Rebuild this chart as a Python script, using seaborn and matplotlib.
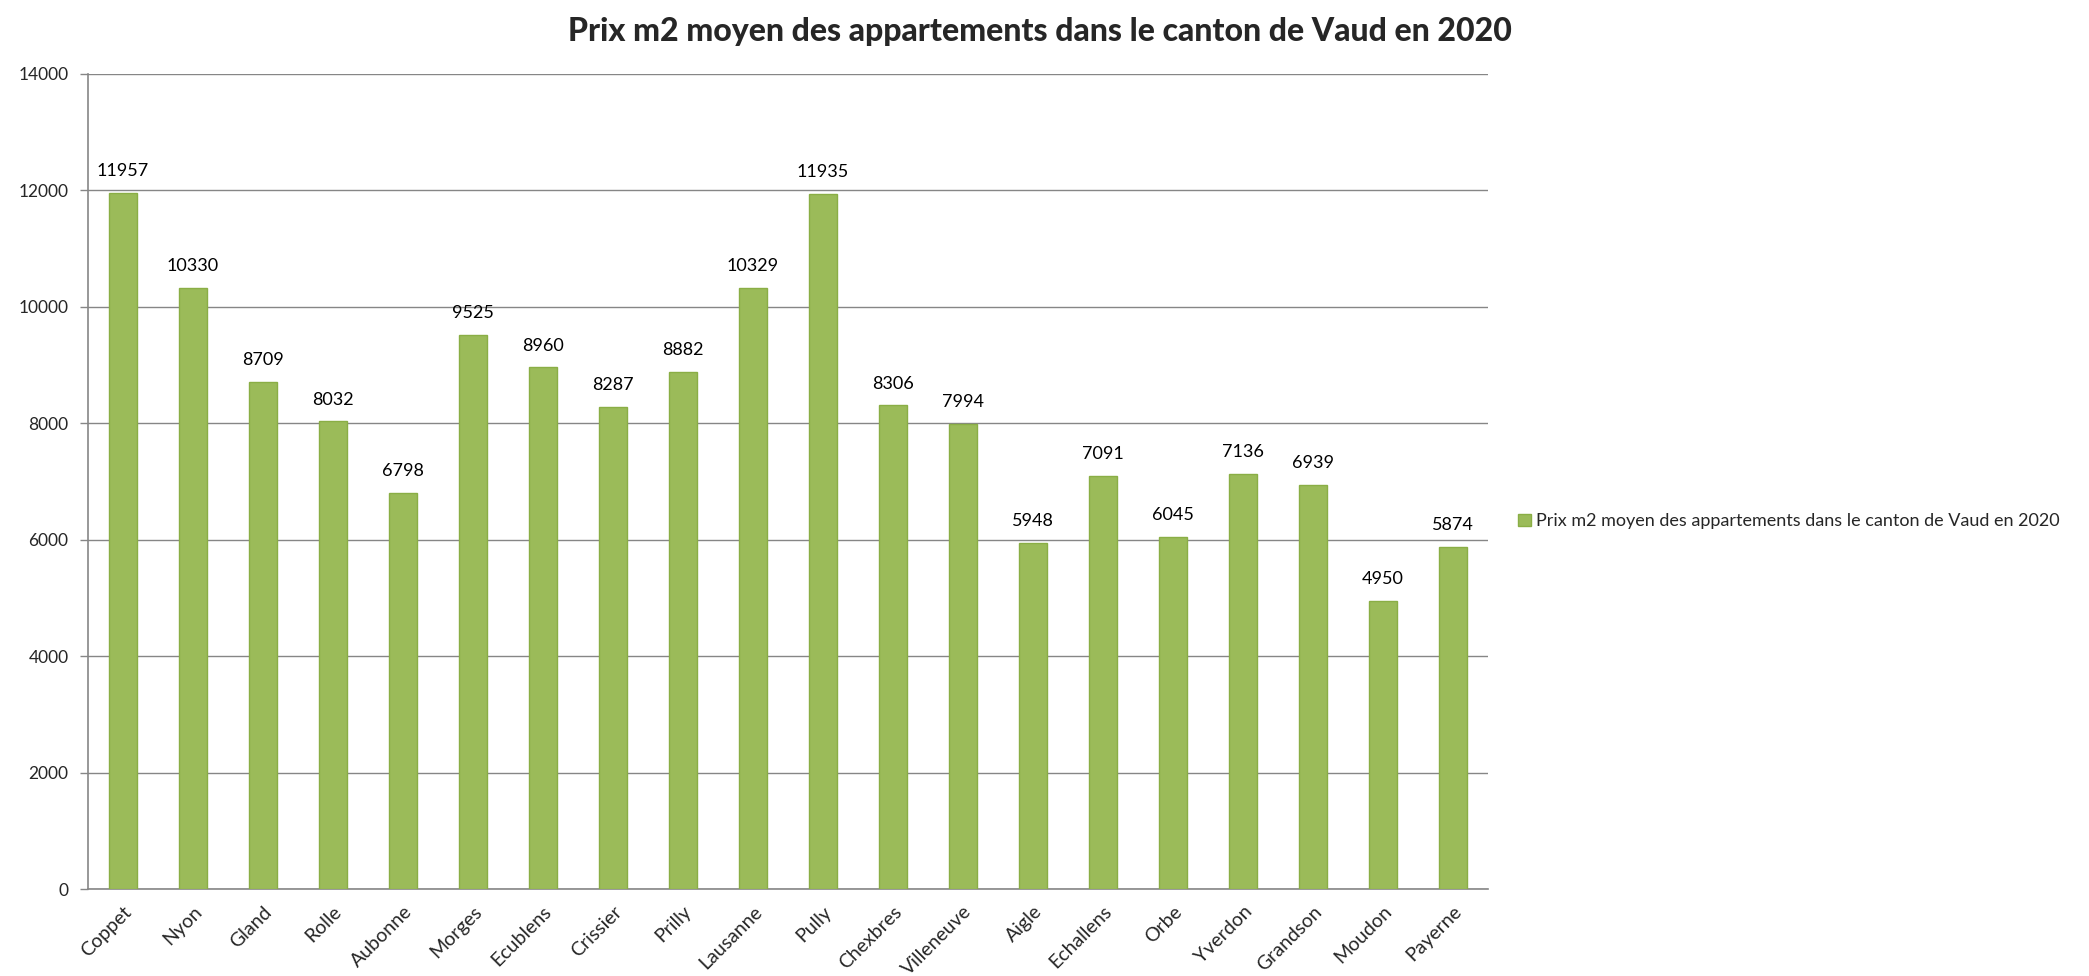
import matplotlib
matplotlib.use("Agg")
import matplotlib.pyplot as plt
import seaborn as sns
import pandas as pd
from matplotlib.patches import Patch
from matplotlib.ticker import FixedLocator

communes = ["Coppet", "Nyon", "Gland", "Rolle", "Aubonne", "Morges", "Ecublens",
            "Crissier", "Prilly", "Lausanne", "Pully", "Chexbres", "Villeneuve",
            "Aigle", "Echallens", "Orbe", "Yverdon", "Grandson", "Moudon", "Payerne"]
prix = [11957, 10330, 8709, 8032, 6798, 9525, 8960, 8287, 8882, 10329, 11935,
        8306, 7994, 5948, 7091, 6045, 7136, 6939, 4950, 5874]
y_ticks = [0, 2000, 4000, 6000, 8000, 10000, 12000, 14000]
title = "Prix m2 moyen des appartements dans le canton de Vaud en 2020"

sns.set_theme(style="white")
plt.rcParams['font.family'] = ['Lato', 'DejaVu Sans']

df = pd.DataFrame({"commune": communes, "prix": prix})

fig = plt.figure(figsize=(20.89, 9.76), dpi=100)
ax = fig.add_axes([0.0421, 0.0891, 0.6702, 0.8351])

green = "#9BBB59"
sns.barplot(data=df, x="commune", y="prix", color=green, width=0.4,
            saturation=1, edgecolor="#8AAE45", linewidth=1, ax=ax, zorder=3)

ax.set_ylim(0, 14000)
ax.set_xlim(-0.5, len(communes) - 0.5)
ax.set_yticks(y_ticks)
ax.set_yticklabels([str(v) for v in y_ticks], fontsize=12.5)
ax.yaxis.grid(True, color="#868686", linewidth=1, zorder=0)
ax.set_axisbelow(True)

ax.set_xticks(range(len(communes)))
ax.set_xticklabels(communes, rotation=45, ha="right", rotation_mode="anchor", fontsize=14)
ax.xaxis.set_minor_locator(FixedLocator([i - 0.5 for i in range(len(communes) + 1)]))
ax.tick_params(axis="x", which="major", length=0, pad=10)
ax.tick_params(axis="x", which="minor", length=6, color="#868686", width=1, direction="out")
ax.tick_params(axis="y", which="major", length=6, color="#868686", width=1, direction="out", left=True, pad=8)

for s in ["top", "right"]:
    ax.spines[s].set_visible(False)
for s in ["left", "bottom"]:
    ax.spines[s].set_color("#868686")
    ax.spines[s].set_linewidth(1.2)

ax.set_xlabel("")
ax.set_ylabel("")

for i, v in enumerate(prix):
    ax.annotate(str(v), (i, v), xytext=(0, 10), textcoords="offset points",
                ha="center", va="bottom", fontsize=13, color="black")

fig.text(0.498, 0.968, title, ha="center", va="center", fontsize=23, fontweight="black")

handle = Patch(facecolor=green, edgecolor="#8AAE45")
fig.legend([handle], [title], loc="center left", bbox_to_anchor=(0.719, 0.466),
           frameon=False, fontsize=13, handlelength=0.7, handleheight=0.7, handletextpad=0.3)

fig.savefig("out.png", dpi=100)
